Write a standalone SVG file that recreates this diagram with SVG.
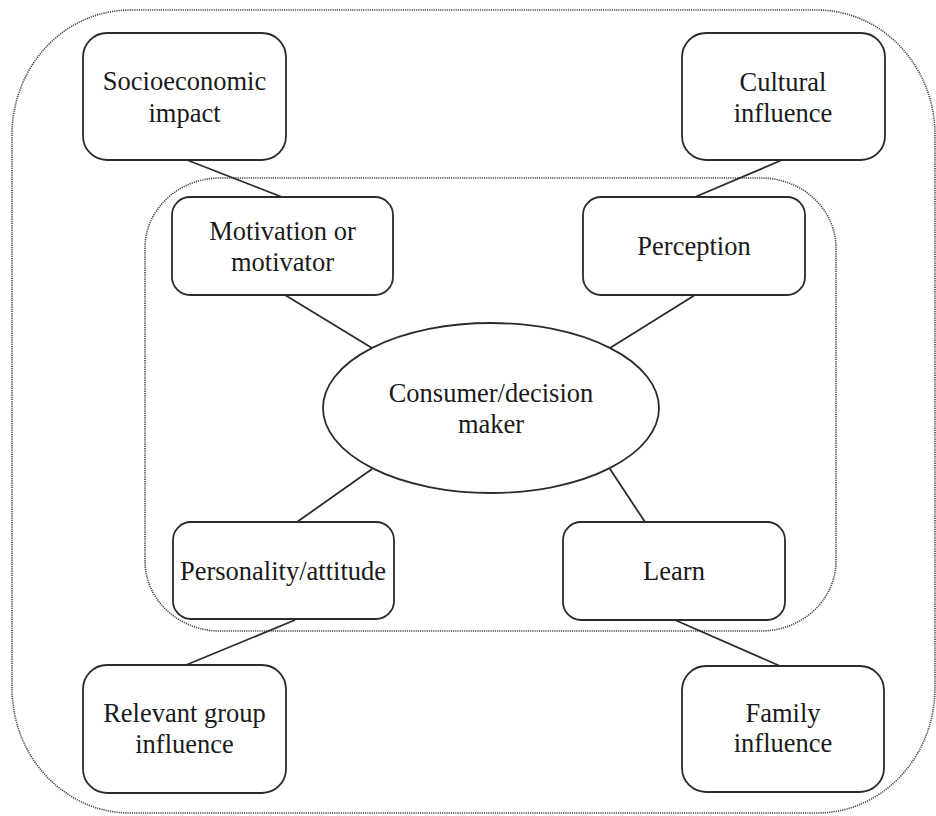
<svg xmlns="http://www.w3.org/2000/svg" width="936" height="816" viewBox="0 0 936 816">
<style>
.frame{fill:none;stroke:#444;stroke-width:1.6;stroke-dasharray:1.2 1}
.box{fill:#fff;stroke:#2b2b2b;stroke-width:1.8}
.lbl{font-family:"Liberation Serif","Times New Roman",serif;font-size:26.5px;fill:#1a1a1a;text-anchor:middle}
.conn line{stroke:#2b2b2b;stroke-width:1.8}
</style>
<rect width="936" height="816" fill="#fff"/>
<rect id="outer-frame" class="frame" x="12" y="10" width="923" height="803" rx="118" ry="125"/>
<rect id="inner-frame" class="frame" x="145" y="178" width="691" height="453" rx="75" ry="70"/>
<g id="connectors" class="conn">
<line x1="187" y1="160" x2="282" y2="197"/>
<line x1="782" y1="160" x2="695" y2="197"/>
<line x1="285" y1="295" x2="372" y2="348"/>
<line x1="695" y1="295" x2="610" y2="348"/>
<line x1="372" y1="469" x2="297" y2="522"/>
<line x1="610" y1="469" x2="645" y2="522"/>
<line x1="295" y1="620" x2="186" y2="665"/>
<line x1="675" y1="620" x2="780" y2="666"/>
</g>
<g id="socioeconomic">
<rect class="box" x="83" y="33" width="203" height="127" rx="24"/>
<text class="lbl" x="184.5" y="90">Socioeconomic</text>
<text class="lbl" x="184.5" y="122">impact</text>
</g>
<g id="cultural">
<rect class="box" x="682" y="33" width="203" height="127" rx="24"/>
<text class="lbl" x="783" y="91">Cultural</text>
<text class="lbl" x="783" y="122">influence</text>
</g>
<g id="motivation">
<rect class="box" x="172" y="197" width="221" height="98" rx="18"/>
<text class="lbl" x="282.5" y="240">Motivation or</text>
<text class="lbl" x="282.5" y="271">motivator</text>
</g>
<g id="perception">
<rect class="box" x="583" y="197" width="222" height="98" rx="18"/>
<text class="lbl" x="694" y="255">Perception</text>
</g>
<g id="consumer">
<ellipse class="box" cx="491" cy="408" rx="168" ry="85"/>
<text class="lbl" x="491" y="402">Consumer/decision</text>
<text class="lbl" x="491" y="433">maker</text>
</g>
<g id="personality">
<rect class="box" x="173" y="522" width="221" height="97" rx="18"/>
<text class="lbl" x="283" y="580">Personality/attitude</text>
</g>
<g id="learn">
<rect class="box" x="563" y="522" width="222" height="98" rx="18"/>
<text class="lbl" x="674" y="580">Learn</text>
</g>
<g id="relevant-group">
<rect class="box" x="83" y="665" width="203" height="128" rx="24"/>
<text class="lbl" x="184.5" y="722">Relevant group</text>
<text class="lbl" x="184.5" y="753">influence</text>
</g>
<g id="family">
<rect class="box" x="682" y="666" width="202" height="126" rx="24"/>
<text class="lbl" x="783" y="722">Family</text>
<text class="lbl" x="783" y="752">influence</text>
</g>
</svg>
